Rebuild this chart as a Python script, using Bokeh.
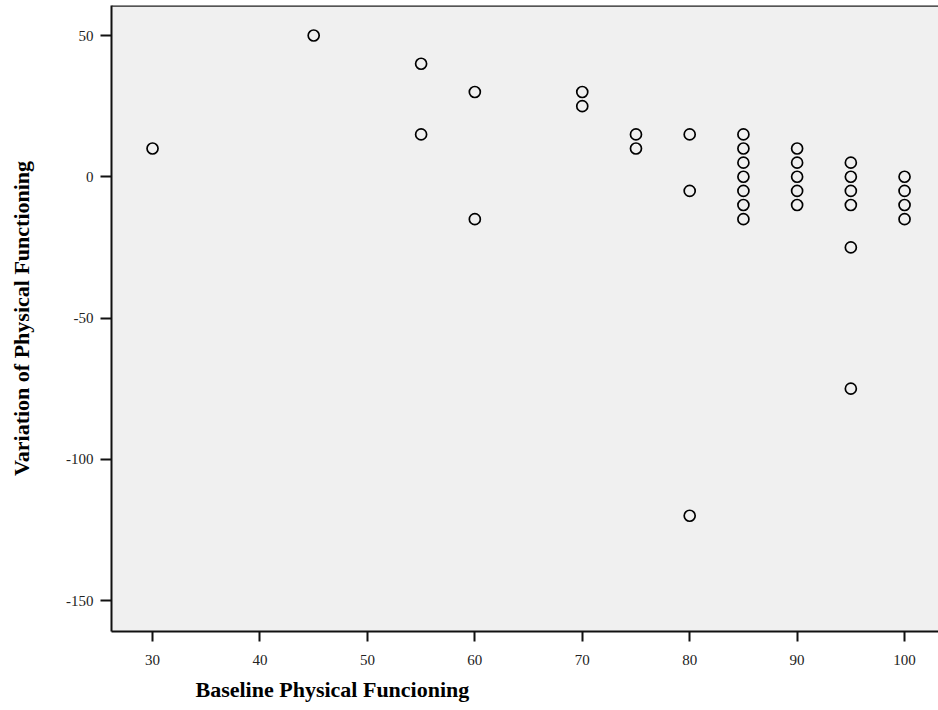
from bokeh.plotting import figure
from bokeh.models import Range1d, FixedTicker, Span, Title
from bokeh.embed import file_html
from bokeh.resources import INLINE

# Data
baseline = [30, 45, 55, 55, 60, 60, 70, 70, 75, 75, 80, 80, 80,
            85, 85, 85, 85, 85, 85, 85,
            90, 90, 90, 90, 90,
            95, 95, 95, 95, 95, 95,
            100, 100, 100, 100]
variation = [10, 50, 40, 15, 30, -15, 30, 25, 15, 10, 15, -5, -120,
             15, 10, 5, 0, -5, -10, -15,
             10, 5, 0, -5, -10,
             5, 0, -5, -10, -25, -75,
             0, -5, -10, -15]
x_ticks = [30, 40, 50, 60, 70, 80, 90, 100]
y_ticks = [-150, -100, -50, 0, 50]
x_title = "Baseline Physical Funcioning"
y_title = "Variation of Physical Functioning"

FONT = "Liberation Serif"

p = figure(width=938, height=710, output_backend="svg", toolbar_location=None,
           x_range=Range1d(26.18, 103.16), y_range=Range1d(-160.97, 60.62),
           min_border_left=111, min_border_right=0, min_border_top=5,
           min_border_bottom=79)

p.background_fill_color = "#f0f0f0"
p.border_fill_color = "white"
p.outline_line_color = None
p.grid.visible = False

p.scatter(baseline, variation, marker="circle", size=11, fill_color=None,
          line_color="black", line_width=1.7)

for ax in (p.xaxis[0], p.yaxis[0]):
    ax.axis_line_width = 2
    ax.axis_line_color = "#111111"
    ax.major_tick_line_width = 2
    ax.major_tick_line_color = "#111111"
    ax.major_tick_out = 10
    ax.major_tick_in = 0
    ax.minor_tick_line_color = None
    ax.major_label_text_font = FONT
    ax.major_label_text_font_size = "15px"
    ax.major_label_text_color = "#222222"
    ax.major_label_standoff = 7
    ax.axis_label_text_font = FONT
    ax.axis_label_text_font_size = "22px"
    ax.axis_label_text_font_style = "bold"
    ax.axis_label_text_color = "black"

p.yaxis.major_tick_out = 11
p.xaxis.major_label_standoff = 13
p.xaxis.ticker = FixedTicker(ticks=x_ticks)
p.yaxis.ticker = FixedTicker(ticks=y_ticks)
p.yaxis.major_label_overrides = {t: str(t) for t in y_ticks}
p.yaxis.axis_label = y_title
p.yaxis.axis_label_standoff = 29

xt = Title(text=x_title, align="left", offset=84, vertical_align="bottom",
           text_font=FONT, text_font_size="22px", text_font_style="bold",
           text_color="black", standoff=15)
p.add_layout(xt, "below")

top = Span(location=60.62, dimension="width", line_color="#222222", line_width=2.5)
p.add_layout(top)

open("out.html", "w").write(file_html(p, INLINE))
